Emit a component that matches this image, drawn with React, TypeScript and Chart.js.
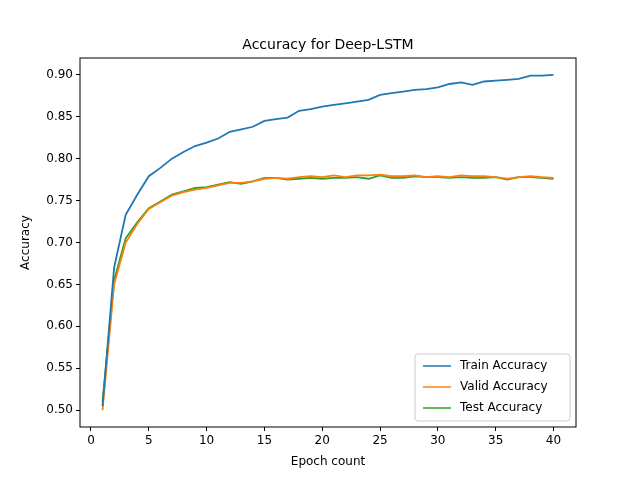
import { useEffect, useRef } from "react";
import { Chart, registerables } from "chart.js";

Chart.register(...registerables);

const epochs = Array.from({ length: 40 }, (_, i) => i + 1);
const trainAcc = [
  0.505, 0.67, 0.733, 0.757, 0.779, 0.789, 0.8, 0.808, 0.815, 0.819,
  0.824, 0.832, 0.835, 0.838, 0.845, 0.847, 0.849, 0.857, 0.859, 0.862,
  0.864, 0.866, 0.868, 0.87, 0.876, 0.878, 0.88, 0.882, 0.883, 0.885,
  0.889, 0.891, 0.888, 0.892, 0.893, 0.894, 0.895, 0.899, 0.899, 0.9,
];
const validAcc = [
  0.5, 0.65, 0.7, 0.722, 0.74, 0.748, 0.756, 0.76, 0.763, 0.765,
  0.768, 0.771, 0.771, 0.773, 0.776, 0.777, 0.776, 0.778, 0.779, 0.778,
  0.78, 0.778, 0.78, 0.78, 0.781, 0.779, 0.779, 0.78, 0.778, 0.779,
  0.778, 0.78, 0.779, 0.779, 0.778, 0.776, 0.778, 0.779, 0.778, 0.777,
];
const testAcc = [
  0.51, 0.655, 0.705, 0.724, 0.741, 0.749, 0.757, 0.761, 0.765, 0.766,
  0.769, 0.772, 0.77, 0.773, 0.777, 0.777, 0.775, 0.776, 0.777, 0.776,
  0.777, 0.777, 0.778, 0.776, 0.78, 0.777, 0.777, 0.779, 0.778, 0.778,
  0.777, 0.778, 0.777, 0.777, 0.778, 0.775, 0.778, 0.778, 0.777, 0.776,
];
const xTicks = [0, 5, 10, 15, 20, 25, 30, 35, 40];
const yTicks = [0.5, 0.55, 0.6, 0.65, 0.7, 0.75, 0.8, 0.85, 0.9];

const FONT = "'DejaVu Sans', sans-serif";

const framePlugin = {
  id: "frame",
  afterDraw(chart: Chart) {
    const { ctx, chartArea: a } = chart;
    ctx.save();
    ctx.strokeStyle = "#000";
    ctx.lineWidth = 1;
    ctx.strokeRect(a.left, a.top, a.right - a.left, a.bottom - a.top);
    ctx.fillStyle = "#000";
    ctx.font = `14px ${FONT}`;
    ctx.textAlign = "center";
    ctx.textBaseline = "bottom";
    ctx.fillText("Accuracy for Deep-LSTM", (a.left + a.right) / 2, a.top - 6);

    // axis titles
    ctx.font = `12px ${FONT}`;
    ctx.textBaseline = "middle";
    ctx.fillText("Epoch count", (a.left + a.right) / 2, 462);
    ctx.save();
    ctx.translate(26, (a.top + a.bottom) / 2);
    ctx.rotate(-Math.PI / 2);
    ctx.fillText("Accuracy", 0, 0);
    ctx.restore();

    // legend, lower right inside the axes
    const items = chart.data.datasets;
    const w = 155, h = 67;
    const x = a.right - 6 - w, y = a.bottom - 6 - h;
    ctx.fillStyle = "rgba(255,255,255,0.8)";
    ctx.strokeStyle = "#ccc";
    ctx.beginPath();
    ctx.roundRect(x, y, w, h, 3);
    ctx.fill();
    ctx.stroke();
    ctx.textAlign = "left";
    items.forEach((d, i) => {
      const cy = y + 12 + i * 21;
      ctx.strokeStyle = d.borderColor as string;
      ctx.lineWidth = 1.5;
      ctx.beginPath();
      ctx.moveTo(x + 8, cy);
      ctx.lineTo(x + 36, cy);
      ctx.stroke();
      ctx.fillStyle = "#000";
      ctx.fillText(d.label as string, x + 45, cy);
    });
    ctx.restore();
  },
};

export default function App() {
  const ref = useRef<HTMLCanvasElement>(null);

  useEffect(() => {
    document.body.style.margin = "0";
    if (!ref.current) return;
    const mk = (label: string, data: number[], color: string) => ({
      label,
      data: data.map((v, i) => ({ x: epochs[i], y: v })),
      borderColor: color,
      backgroundColor: color,
      borderWidth: 1.8,
      pointRadius: 0,
      tension: 0,
    });
    const chart = new Chart(ref.current, {
      type: "line",
      data: {
        datasets: [
          mk("Train Accuracy", trainAcc, "#1f77b4"),
          mk("Valid Accuracy", validAcc, "#ff7f0e"),
          mk("Test Accuracy", testAcc, "#2ca02c"),
        ],
      },
      options: {
        animation: false,
        responsive: false,
        layout: { padding: { top: 58, right: 64, left: 0, bottom: 0 } },
        plugins: { legend: { display: false }, tooltip: { enabled: false } },
        scales: {
          x: {
            type: "linear",
            min: -0.95,
            max: 41.95,
            afterBuildTicks: (s: any) => { s.ticks = xTicks.map((v) => ({ value: v })); },
            afterFit: (s: any) => { s.height = 53; },
            grid: { drawOnChartArea: false, tickLength: 4, color: "#000" },
            border: { display: false },
            ticks: { color: "#000", font: { family: FONT, size: 12 }, padding: 3, maxRotation: 0 },
          },
          y: {
            min: 0.48,
            max: 0.92,
            afterBuildTicks: (s: any) => { s.ticks = yTicks.map((v) => ({ value: v })); },
            afterFit: (s: any) => { s.width = 80; },
            grid: { drawOnChartArea: false, tickLength: 4, color: "#000" },
            border: { display: false },
            ticks: { color: "#000", font: { family: FONT, size: 12 }, padding: 3, callback: (v: any) => Number(v).toFixed(2) },
          },
        },
      },
      plugins: [framePlugin],
    });
    return () => chart.destroy();
  }, []);

  return <canvas ref={ref} width={640} height={480} style={{ display: "block" }} />;
}
